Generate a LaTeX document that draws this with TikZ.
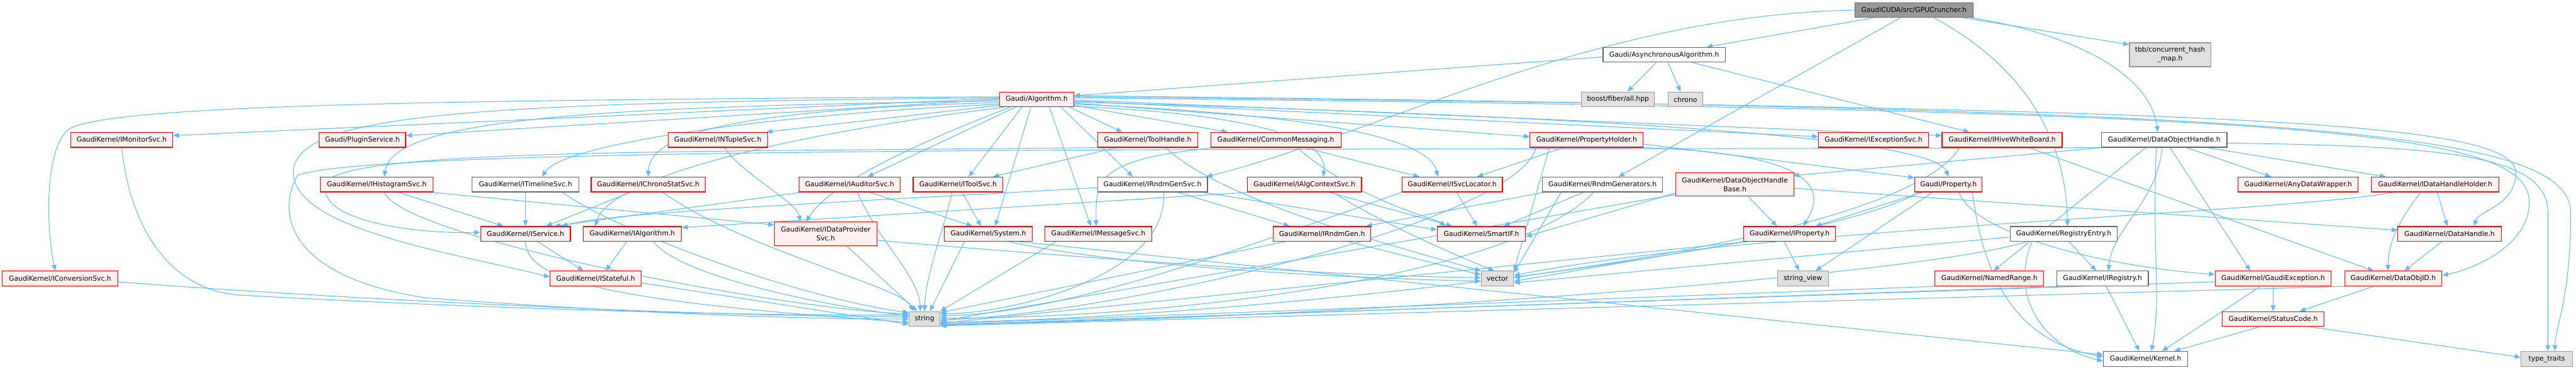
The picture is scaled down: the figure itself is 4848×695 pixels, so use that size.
\documentclass[tikz,border=0pt]{standalone}
\usepackage{fontspec}
\setmainfont{DejaVu Sans}
\usetikzlibrary{arrows.meta}
\definecolor{eblue}{HTML}{63B8FF}
\definecolor{rfill}{HTML}{FFF0F0}
\definecolor{gfill}{HTML}{E0E0E0}
\definecolor{gdraw}{HTML}{999999}
\definecolor{wdraw}{HTML}{666666}
\pgfdeclarelayer{bg}
\pgfsetlayers{bg,main}
\tikzset{
  nd/.style={rectangle, minimum height=28pt, inner sep=0pt, line width=1.4pt, font=\fontsize{12.8}{16.5}\selectfont, align=center, text=black},
  rn/.style={nd, fill=rfill, draw=red},
  wn/.style={nd, fill=white, draw=wdraw},
  gn/.style={nd, fill=gfill, draw=gdraw},
  tn/.style={nd, fill=gdraw, draw=wdraw},
  e/.style={draw=eblue, line width=1.25pt, -{Triangle[length=11pt,width=9pt]}},
}
\newcommand\SL[2]{\draw[e] (#1) -- (#2);}
\begin{document}
\begin{tikzpicture}[x=1pt,y=1pt]
\useasboundingbox (0,0) rectangle (4848,-695);
% nodes
\node[tn, minimum width=222pt] (top) at (3602,-19) {GaudiCUDA/src/GPUCruncher.h};
\node[wn, minimum width=230pt] (async) at (3132,-103) {Gaudi/AsynchronousAlgorithm.h};
\node[gn, minimum width=137pt] (boost) at (3045,-187) {boost/fiber/all.hpp};
\node[gn, minimum width=66pt] (chrono) at (3172,-187) {chrono};
\node[gn, minimum width=153pt, minimum height=45pt] (tbb) at (4084,-103) {tbb/concurrent\_hash\\\_map.h};
\node[rn, minimum width=139pt] (alg) at (1951,-187) {Gaudi/Algorithm.h};
\node[rn, minimum width=192pt] (imon) at (229,-263) {GaudiKernel/IMonitorSvc.h};
\node[rn, minimum width=163pt] (plugin) at (682,-263) {Gaudi/PluginService.h};
\node[rn, minimum width=187pt] (intuple) at (1351,-263) {GaudiKernel/INTupleSvc.h};
\node[rn, minimum width=188pt] (toolhandle) at (2160,-263) {GaudiKernel/ToolHandle.h};
\node[rn, minimum width=245pt] (commsg) at (2401,-263) {GaudiKernel/CommonMessaging.h};
\node[rn, minimum width=213pt] (propholder) at (2986,-263) {GaudiKernel/PropertyHolder.h};
\node[rn, minimum width=207pt] (iexc) at (3526,-263) {GaudiKernel/IExceptionSvc.h};
\node[rn, minimum width=226pt] (ihive) at (3768,-263) {GaudiKernel/IHiveWhiteBoard.h};
\node[wn, minimum width=236pt] (doh) at (4073,-263) {GaudiKernel/DataObjectHandle.h};
\node[rn, minimum width=211pt] (ihist) at (709,-347) {GaudiKernel/IHistogramSvc.h};
\node[wn, minimum width=201pt] (itimeline) at (989,-347) {GaudiKernel/ITimelineSvc.h};
\node[rn, minimum width=215pt] (ichrono) at (1220,-347) {GaudiKernel/IChronoStatSvc.h};
\node[rn, minimum width=191pt] (iauditor) at (1599,-347) {GaudiKernel/IAuditorSvc.h};
\node[rn, minimum width=169pt] (itoolsvc) at (1803,-347) {GaudiKernel/IToolSvc.h};
\node[wn, minimum width=207pt] (irndmgensvc) at (2169,-347) {GaudiKernel/IRndmGenSvc.h};
\node[rn, minimum width=215pt] (ialgctx) at (2455,-347) {GaudiKernel/IAlgContextSvc.h};
\node[rn, minimum width=189pt] (isvcloc) at (2733,-347) {GaudiKernel/ISvcLocator.h};
\node[wn, minimum width=226pt] (rndmgen) at (3016,-347) {GaudiKernel/RndmGenerators.h};
\node[rn, minimum width=222pt, minimum height=44pt] (dohb) at (3265,-347) {GaudiKernel/DataObjectHandle\\Base.h};
\node[rn, minimum width=127pt] (gprop) at (3667,-347) {Gaudi/Property.h};
\node[rn, minimum width=226pt] (anydw) at (4325,-347) {GaudiKernel/AnyDataWrapper.h};
\node[rn, minimum width=240pt] (idhh) at (4583,-347) {GaudiKernel/IDataHandleHolder.h};
\node[rn, minimum width=169pt] (iservice) at (989,-440) {GaudiKernel/IService.h};
\node[rn, minimum width=185pt] (ialgorithm) at (1190,-440) {GaudiKernel/IAlgorithm.h};
\node[rn, minimum width=193pt, minimum height=45pt] (idps) at (1554,-440) {GaudiKernel/IDataProvider\\Svc.h};
\node[rn, minimum width=165pt] (system) at (1860,-440) {GaudiKernel/System.h};
\node[rn, minimum width=201pt] (imsgsvc) at (2067,-440) {GaudiKernel/IMessageSvc.h};
\node[rn, minimum width=184pt] (irndmgen) at (2488,-440) {GaudiKernel/IRndmGen.h};
\node[rn, minimum width=166pt] (smartif) at (2788,-440) {GaudiKernel/SmartIF.h};
\node[rn, minimum width=173pt] (iproperty) at (3368,-440) {GaudiKernel/IProperty.h};
\node[wn, minimum width=202pt] (regentry) at (3884,-440) {GaudiKernel/RegistryEntry.h};
\node[rn, minimum width=195pt] (datahandle) at (4610,-440) {GaudiKernel/DataHandle.h};
\node[rn, minimum width=217pt] (iconv) at (113,-524) {GaudiKernel/IConversionSvc.h};
\node[rn, minimum width=171pt] (istateful) at (1121,-524) {GaudiKernel/IStateful.h};
\node[gn, minimum width=61pt] (vector) at (2818,-524) {vector};
\node[gn, minimum width=96pt] (strview) at (3393,-524) {string\_view};
\node[rn, minimum width=205pt] (namedrange) at (3744,-524) {GaudiKernel/NamedRange.h};
\node[wn, minimum width=172pt] (iregistry) at (3957,-524) {GaudiKernel/IRegistry.h};
\node[rn, minimum width=218pt] (gexc) at (4278,-524) {GaudiKernel/GaudiException.h};
\node[rn, minimum width=183pt] (dataobjid) at (4504,-524) {GaudiKernel/DataObjID.h};
\node[gn, minimum width=58pt] (string) at (1740,-600) {string};
\node[rn, minimum width=191pt] (statuscode) at (4278,-600) {GaudiKernel/StatusCode.h};
\node[wn, minimum width=159pt] (kernel) at (4038,-675) {GaudiKernel/Kernel.h};
\node[gn, minimum width=97pt] (typetraits) at (4793,-675) {type\_traits};

\begin{pgfonlayer}{bg}
% top
\SL{[xshift=-77pt]top.south}{[xshift=80pt]async.north}
\SL{[xshift=-26pt]top.south}{[xshift=30pt]rndmgen.north}
\draw[e] (top.west) .. controls (3000,-28) and (2600,-250) .. ([xshift=-3pt]irndmgensvc.north east);
\SL{[xshift=95pt]top.south}{[yshift=-4pt]tbb.north west}
\draw[e] ([xshift=-2pt]top.south east) .. controls (3880,-60) and (4045,-130) .. ([xshift=-12pt]doh.north);
\draw[e] ([xshift=38pt]top.south) .. controls (3800,-120) and (3888,-250) .. ([xshift=7pt]regentry.north);
% async
\SL{[yshift=-4pt]async.west}{[yshift=7pt]alg.east}
\SL{[xshift=-15pt]async.south}{[xshift=18pt]boost.north}
\SL{[xshift=7pt]async.south}{[xshift=-9pt]chrono.north}
\SL{[xshift=53pt]async.south}{[xshift=-62pt]ihive.north}
% alg left
\SL{[yshift=2pt]alg.west}{[yshift=8pt]imon.east}
\SL{[yshift=0pt]alg.west}{[yshift=8pt]plugin.east}
\draw[e] ([yshift=5pt]alg.west) .. controls (800,-188) and (230,-198) .. (135,-240) .. controls (85,-265) and (85,-420) .. ([xshift=-9pt]iconv.north);
\draw[e] ([yshift=-3pt]alg.west) .. controls (1100,-200) and (740,-225) .. ([xshift=14pt]ihist.north);
\draw[e] ([yshift=-9pt]alg.west) .. controls (1450,-215) and (1060,-270) .. ([xshift=31pt]itimeline.north);
\draw[e] ([yshift=-6pt]alg.west) .. controls (1420,-205) and (1222,-245) .. (ichrono.north);
\SL{[yshift=-11pt]alg.west}{[xshift=-3pt]intuple.north east}
\draw[e] ([yshift=3pt]alg.west) .. controls (900,-193) and (565,-212) .. (552,-320) .. controls (545,-430) and (850,-475) .. ([yshift=3pt]istateful.west);
\draw[e] ([xshift=-62pt]alg.south) .. controls (1500,-250) and (1150,-330) .. ([xshift=-70pt]ialgorithm.north);
\draw[e] ([xshift=-50pt]alg.south) .. controls (1750,-260) and (1565,-340) .. ([xshift=-37pt]idps.north);
% alg bottom
\SL{[xshift=-40pt]alg.south}{[xshift=34pt]iauditor.north}
\SL{[xshift=-28pt]alg.south}{[xshift=20pt]itoolsvc.north}
\SL{[xshift=-11pt]alg.south}{[xshift=13pt]system.north}
\SL{[xshift=24pt]alg.south}{[xshift=-14pt]imsgsvc.north}
\SL{[xshift=46pt]alg.south}{[xshift=-37pt]irndmgensvc.north}
\SL{[xshift=62pt]alg.south}{[xshift=-48pt]toolhandle.north}
% alg right
\SL{[yshift=-11pt]alg.east}{[xshift=-91pt]commsg.north}
\SL{[yshift=-7pt]alg.east}{[yshift=6pt]propholder.west}
\draw[e] ([yshift=-9pt]alg.east) .. controls (2480,-215) and (2690,-260) .. ([xshift=-27pt]isvcloc.north);
\draw[e] ([yshift=-13pt]alg.east) .. controls (2380,-215) and (2500,-265) .. ([xshift=35pt]ialgctx.north);
\SL{[yshift=-3pt]alg.east}{[yshift=6pt]iexc.west}
\SL{[yshift=-1pt]alg.east}{[yshift=8pt]ihive.west}
\draw[e] ([yshift=-5pt]alg.east) .. controls (3100,-222) and (3640,-262) .. (gprop.north);
\draw[e] ([yshift=3pt]alg.east) .. controls (4300,-208) and (4760,-240) .. (4760,-380) .. controls (4760,-460) and (4660,-505) .. ([yshift=6pt]dataobjid.east);
\draw[e] ([yshift=5pt]alg.east) .. controls (4300,-205) and (4745,-230) .. (4735,-330) .. controls (4728,-390) and (4665,-395) .. ([xshift=46pt]datahandle.north);
\draw[e] ([yshift=7pt]alg.east) .. controls (4300,-205) and (4836,-240) .. (4838,-400) .. controls (4838,-560) and (4810,-610) .. ([xshift=15pt]typetraits.north);
% left-side nodes
\draw[e] (imon.south) .. controls (245,-430) and (320,-545) .. (450,-555) .. controls (900,-580) and (1400,-595) .. ([yshift=8pt]string.west);
\draw[e] ([yshift=-6pt]iconv.east) .. controls (600,-560) and (1300,-595) .. ([yshift=4pt]string.west);
\draw[e] ([xshift=2pt]doh.south west) .. controls (2500,-283) and (700,-272) .. (560,-330) .. controls (520,-400) and (540,-520) .. (800,-560) .. controls (1200,-590) and (1500,-600) .. (string.west);
\draw[e] ([xshift=3pt]toolhandle.south west) .. controls (1300,-286) and (680,-280) .. (615,-340) .. controls (585,-420) and (800,-440) .. ([yshift=3pt]iservice.west);
\SL{[xshift=41pt]ihist.south}{[xshift=-42pt]iservice.north}
\SL{[xshift=-4pt]ihist.south east}{[yshift=17pt]idps.west}
\draw[e] ([xshift=14pt]ihist.south) .. controls (760,-450) and (1500,-585) .. ([yshift=10pt]string.west);
\SL{itimeline.south}{iservice.north}
\draw[e] ([xshift=70pt]itimeline.south) .. controls (1150,-430) and (1500,-560) .. ([yshift=12pt]string.west);
\SL{[xshift=-34pt]ichrono.south}{[xshift=39pt]iservice.north}
\draw[e] ([xshift=27pt]ichrono.south) .. controls (1400,-470) and (1700,-540) .. ([xshift=-22pt]string.north);
\draw[e] ([xshift=12pt]intuple.south) .. controls (1400,-330) and (1500,-380) .. ([xshift=-48pt]idps.north);
\SL{[xshift=-90pt]iauditor.south}{[xshift=55pt]iservice.north}
\SL{[xshift=38pt]iauditor.south}{[xshift=-30pt]system.north}
\draw[e] ([xshift=15pt]iauditor.south) .. controls (1650,-450) and (1730,-520) .. ([xshift=-8pt]string.north);
\SL{[xshift=8pt]itoolsvc.south}{[xshift=-14pt]system.north}
\draw[e] ([xshift=-11pt]itoolsvc.south) .. controls (1770,-450) and (1742,-520) .. (string.north);
\SL{[xshift=-59pt]toolhandle.south}{[xshift=66pt]itoolsvc.north}
\draw[e] ([xshift=34pt]toolhandle.south) .. controls (2300,-380) and (2650,-470) .. (vector.north west);
\draw[e] ([xshift=-115pt]commsg.south) .. controls (2060,-300) and (2062,-340) .. ([xshift=-4pt]imsgsvc.north);
\SL{[xshift=54pt]commsg.south}{[xshift=-62pt]isvcloc.north}
\draw[e] ([xshift=40pt]commsg.south) .. controls (2560,-380) and (2700,-410) .. ([xshift=-68pt]smartif.north);
% middle
\SL{[xshift=-44pt]propholder.south}{[xshift=47pt]isvcloc.north}
\draw[e] (propholder.south east) .. controls (3470,-290) and (3420,-380) .. ([xshift=26pt]iproperty.north);
\SL{[yshift=-8pt]propholder.east}{[yshift=-2pt]gprop.north west}
\draw[e] ([xshift=-95pt]propholder.south) .. controls (2850,-420) and (2100,-590) .. ([yshift=-2pt]string.east);
\SL{[xshift=-70pt]propholder.south}{vector.north east}
\SL{[xshift=-36pt]rndmgen.south}{[xshift=42pt]smartif.north}
\SL{[xshift=-78pt]rndmgen.south}{[yshift=-4pt]vector.north east}
\SL{[xshift=-110pt]rndmgen.south}{[xshift=83pt]irndmgen.north}
\draw[e] ([xshift=-17pt]rndmgen.south) .. controls (2850,-520) and (2200,-600) .. ([yshift=2pt]string.east);
\SL{[xshift=8pt]isvcloc.south}{[xshift=-8pt]smartif.north}
\draw[e] (isvcloc.south west) .. controls (2300,-480) and (2000,-590) .. ([yshift=6pt]string.east);
\SL{[xshift=46pt]ialgctx.south}{[xshift=-55pt]smartif.north}
\draw[e] ([xshift=54pt]ialgctx.south) .. controls (2600,-420) and (2740,-480) .. ([xshift=-6pt]vector.north);
\SL{[xshift=5pt]ialgctx.south west}{[yshift=12pt]ialgorithm.east}
\SL{[xshift=48pt]irndmgensvc.south}{[xshift=-61pt]irndmgen.north}
\draw[e] ([yshift=-6pt]irndmgensvc.west) .. controls (1500,-385) and (1150,-400) .. ([xshift=68pt]iservice.north);
\draw[e] ([xshift=21pt]irndmgensvc.south) .. controls (2200,-520) and (1900,-590) .. ([yshift=10pt]string.east);
\SL{[xshift=-10pt]irndmgensvc.south east}{[yshift=8pt]smartif.west}
% right
\SL{[xshift=-50pt]gprop.south}{[xshift=49pt]iproperty.north}
\SL{[xshift=-30pt]gprop.south}{[xshift=24pt]strview.north}
\draw[e] ([xshift=-55pt]gprop.south) .. controls (3400,-480) and (2300,-600) .. ([yshift=-6pt]string.east);
\draw[e] ([xshift=20pt]gprop.south) .. controls (3720,-450) and (4000,-505) .. ([yshift=8pt]gexc.west);
\draw[e] ([xshift=45pt]gprop.south) .. controls (3730,-500) and (3780,-640) .. ([yshift=4pt]kernel.west);
\draw[e] ([xshift=-80pt]iproperty.south) -- ([yshift=-8pt]string.east);
\SL{[xshift=-10pt]iproperty.south}{[xshift=-7pt]strview.north}
\SL{[xshift=-85pt]iproperty.south}{[yshift=-5pt]vector.east}
\SL{[xshift=25pt]dohb.south}{[xshift=-24pt]iproperty.north}
\SL{[yshift=-16pt]dohb.west}{[yshift=-5pt]smartif.east}
\SL{[yshift=-19pt]dohb.west}{[yshift=-4pt]string.east}
\SL{[yshift=-7pt]dohb.east}{[yshift=7pt]datahandle.west}
\SL{[xshift=42pt]doh.south}{[xshift=-51pt]anydw.north}
\SL{[xshift=81pt]doh.south}{[xshift=-93pt]idhh.north}
\SL{[xshift=2pt]doh.south west}{[xshift=-2pt,yshift=-6pt]dohb.north east}
\SL{[xshift=-35pt]doh.south}{[xshift=8pt]namedrange.north}
\draw[e] ([xshift=-4pt]doh.south) .. controls (4060,-380) and (3975,-430) .. ([xshift=11pt]iregistry.north);
\SL{[xshift=11pt]doh.south}{[xshift=-43pt]gexc.north}
\draw[e] ([xshift=-15pt]doh.south) .. controls (4050,-480) and (4068,-560) .. ([xshift=11pt]kernel.north);
\draw[e] ([yshift=-6pt]doh.east) .. controls (4600,-275) and (4795,-290) .. (4795,-400) -- ([xshift=2pt]typetraits.north);
\draw[e] ([xshift=-80pt]ihive.south) .. controls (3600,-420) and (3000,-500) .. ([yshift=2pt]vector.east);
\SL{[xshift=50pt]ihive.south}{[xshift=-37pt]dataobjid.north}
\SL{[xshift=4pt]idhh.south}{[xshift=-4pt]datahandle.north}
\draw[e] ([xshift=-27pt]idhh.south) .. controls (4510,-420) and (4495,-460) .. ([xshift=-10pt]dataobjid.north);
\draw[e] ([xshift=-78pt]idhh.south) .. controls (4300,-400) and (3300,-430) .. ([yshift=6pt]vector.east);
\SL{[xshift=-15pt]datahandle.south}{[xshift=21pt]dataobjid.north}
% lower rows
\SL{[xshift=23pt]iservice.south}{[xshift=-23pt]istateful.north}
\draw[e] (iservice.south) .. controls (992,-520) and (1100,-565) .. ([yshift=-6pt]string.west);
\SL{[xshift=-11pt]ialgorithm.south}{[xshift=19pt]istateful.north}
\draw[e] ([xshift=40pt]ialgorithm.south) .. controls (1280,-520) and (1550,-575) .. ([yshift=6pt]string.west);
\SL{[yshift=-8pt]istateful.east}{[yshift=-10pt]string.west}
\SL{[xshift=40pt]idps.south}{[xshift=-14pt]string.north}
\draw[e] ([yshift=-12pt]idps.east) .. controls (2000,-482) and (2500,-520) .. ([yshift=2pt]vector.west);
\SL{[xshift=-45pt]system.south}{[xshift=10pt]string.north}
\draw[e] ([xshift=40pt]system.south) .. controls (2100,-500) and (2500,-522) .. ([yshift=-5pt]vector.west);
\SL{[xshift=60pt]system.south}{[yshift=8pt]kernel.west}
\SL{[xshift=-80pt]imsgsvc.south}{string.north east}
\SL{[xshift=-70pt]irndmgen.south}{[yshift=12pt]string.east}
\SL{[xshift=50pt]irndmgen.south}{[yshift=7pt]vector.west}
\SL{[xshift=10pt]regentry.south}{[xshift=-12pt]iregistry.north}
\draw[e] ([xshift=-60pt]regentry.south) .. controls (3780,-560) and (3850,-655) .. ([yshift=-4pt]kernel.west);
\SL{[yshift=-6pt]regentry.west}{[yshift=-8pt]vector.east}
\draw[e] ([xshift=-70pt]regentry.south) .. controls (3600,-520) and (2500,-600) .. ([yshift=-10pt]string.east);
\SL{[xshift=7pt]iregistry.south}{[xshift=-12pt]kernel.north}
\SL{[xshift=5pt]iregistry.south west}{[yshift=-12pt]string.east}
\SL{namedrange.south west}{[yshift=-9pt]string.east}
\SL{gexc.south}{statuscode.north}
\SL{[xshift=-24pt]gexc.south}{[xshift=31pt]kernel.north}
\SL{[yshift=-6pt]gexc.west}{[yshift=-11pt]string.east}
\SL{[xshift=-37pt]dataobjid.south}{[xshift=50pt]statuscode.north}
\SL{[xshift=3pt]dataobjid.south west}{[yshift=-13pt]string.east}
\SL{[xshift=-25pt]statuscode.south}{[xshift=54pt]kernel.north}
\SL{[xshift=70pt]statuscode.south}{[yshift=3pt]typetraits.west}
\end{pgfonlayer}
\end{tikzpicture}
\end{document}
